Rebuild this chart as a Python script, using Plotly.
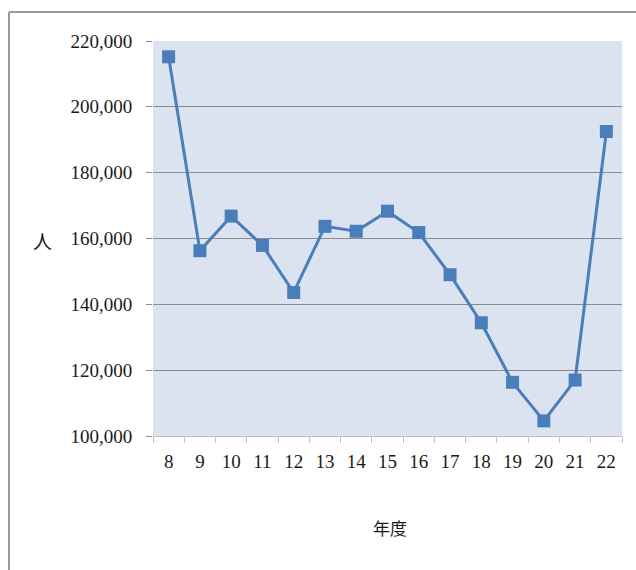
import plotly.graph_objects as go

years = ["8", "9", "10", "11", "12", "13", "14", "15", "16", "17", "18", "19", "20", "21", "22"]
people = [215200, 156300, 166800, 157900, 143600, 163700, 162200, 168300, 161800, 149000, 134400, 116300, 104600, 117000, 192500]
y_ticks = [100000, 120000, 140000, 160000, 180000, 200000, 220000]
y_tick_labels = ["100,000", "120,000", "140,000", "160,000", "180,000", "200,000", "220,000"]

W, H = 636, 570
L, R, T, B = 153, 622, 41, 436

fig = go.Figure(go.Scatter(
    x=years, y=people, mode="lines+markers",
    line=dict(color="#4A7EBB", width=3),
    marker=dict(symbol="square", size=13, color="#4A7EBB"),
    showlegend=False,
))

font_serif = "Liberation Serif, DejaVu Serif, serif"

def px(xp):
    return (xp - L) / (R - L)

def py(yp):
    return (B - yp) / (B - T)

fig.update_layout(
    width=W, height=H,
    margin=dict(l=L, r=W - R, t=T, b=H - B, pad=0),
    paper_bgcolor="white",
    plot_bgcolor="#DCE3F0",
    font=dict(family=font_serif, size=19, color="#1A1A1A"),
    xaxis=dict(
        type="category", tickson="boundaries", ticks="outside", ticklen=6,
        tickcolor="#BFBFBF", showgrid=False, showline=True, linecolor="#BFBFBF",
        linewidth=1, ticklabelstandoff=8, tickfont=dict(size=19),
        range=[-0.5, 14.5],
    ),
    yaxis=dict(
        range=[100000, 220000], tickvals=y_ticks, ticktext=y_tick_labels,
        showgrid=True, gridcolor="#8C8C8C", gridwidth=1, ticks="outside",
        ticklen=6, tickcolor="#8C8C8C", showline=False, zeroline=False,
        ticklabelstandoff=10, tickfont=dict(size=19),
    ),
    annotations=[
        dict(text="人", x=px(42), y=py(240), xref="paper", yref="paper", showarrow=False,
             xanchor="center", yanchor="middle",
             font=dict(size=19, family="Noto Sans CJK JP", color="#1A1A1A")),
        dict(text="年度", x=px(390), y=py(527), xref="paper", yref="paper", showarrow=False,
             xanchor="center", yanchor="middle",
             font=dict(size=17, family="Noto Sans CJK JP", color="#1A1A1A")),
    ],
)

# chart frame (top and left edges visible)
fig.add_shape(type="line", xref="paper", yref="paper",
              x0=px(9), x1=px(640), y0=py(12), y1=py(12),
              line=dict(color="#9A9A9A", width=2))
fig.add_shape(type="line", xref="paper", yref="paper",
              x0=px(9), x1=px(9), y0=py(12), y1=py(575),
              line=dict(color="#9A9A9A", width=2))

fig.write_html("out.html")
